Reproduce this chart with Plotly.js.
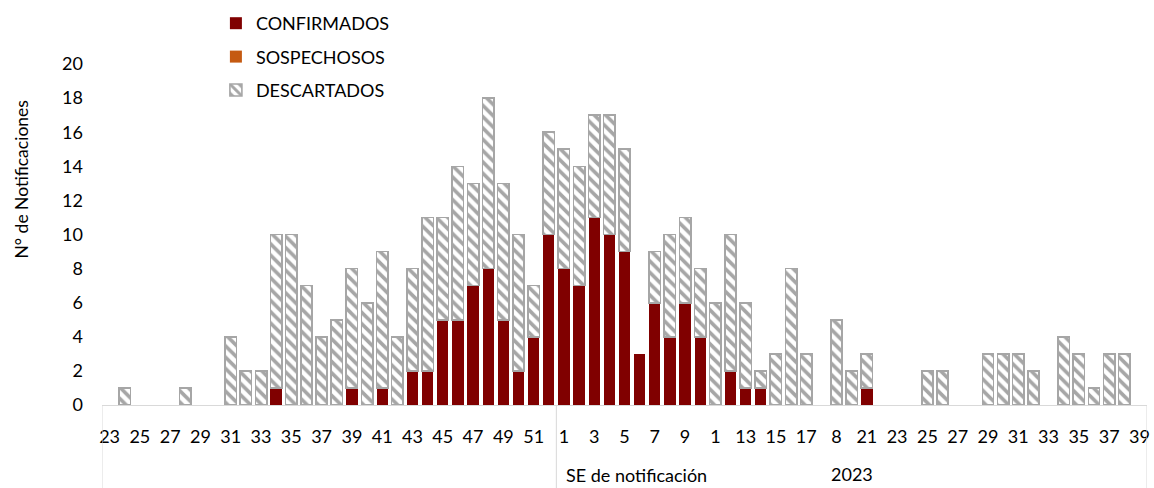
<!DOCTYPE html>
<html>
<head>
<meta charset="utf-8">
<script src="https://cdn.plot.ly/plotly-3.0.1.min.js"></script>
<style>
  html, body { margin: 0; padding: 0; background: #fff; }
  #chart { width: 1154px; height: 488px; }
</style>
</head>
<body>
<div id="chart"></div>
<script>
// Week labels as printed on the axis (69 epidemiological weeks)
const weekLabels = [
  "23","24","25","26","27","28","29","30","31","32","33","34","35","36","37","38","39","40",
  "41","42","43","44","45","46","47","48","49","50","51","52",
  "1","2","3","4","5","6","7","8","9","10","1","12","13","14","15","16","17","18","8","20",
  "21","22","23","24","25","26","27","28","29","30","31","32","33","34","35","36","37","38","39"
];
const groupLabel = "2023";
const xTitle = "SE de notificación";
const yTitle = "N° de Notificaciones";

const confirmados = [
  0,0,0,0,0,0,0,0,0,0,0,1,0,0,0,0,1,0,1,0,2,2,5,5,7,8,5,2,4,10,
  8,7,11,10,9,3,6,4,6,4,0,2,1,1,0,0,0,0,0,0,1,0,0,0,0,0,0,0,0,0,0,0,0,0,0,0,0,0,0
];
const sospechosos = [
  0,0,0,0,0,0,0,0,0,0,0,0,0,0,0,0,0,0,0,0,0,0,0,0,0,0,0,0,0,0,
  0,0,0,0,0,0,0,0,0,0,0,0,0,0,0,0,0,0,0,0,0,0,0,0,0,0,0,0,0,0,0,0,0,0,0,0,0,0,0
];
const descartados = [
  0,1,0,0,0,1,0,0,4,2,2,9,10,7,4,5,7,6,8,4,6,9,6,9,6,10,8,8,3,6,
  7,7,6,7,6,0,3,6,5,4,6,8,5,1,3,8,3,0,5,2,2,0,0,0,2,2,0,0,3,3,3,2,0,4,3,1,3,3,0
];

const idx = weekLabels.map((_, i) => i);
const tickIdx = idx.filter(i => i % 2 === 0);
const tickTxt = tickIdx.map(i => weekLabels[i]);
const nz = a => a.map(v => (v === 0 ? null : v));

const FONT = "Lato, 'Open Sans', sans-serif";
const GRAY = "#A6A6A6";
const LINE = "#D9D9D9";

const traces = [
  {
    type: "bar", name: "CONFIRMADOS", x: idx, y: nz(confirmados),
    marker: { color: "#800000", line: { width: 0 } },
    legendgroup: "a"
  },
  {
    type: "bar", name: "SOSPECHOSOS", x: idx, y: nz(sospechosos),
    marker: { color: "#C55A11", line: { width: 0 } },
    legendgroup: "b"
  },
  {
    type: "bar", name: "DESCARTADOS", x: idx, y: nz(descartados),
    marker: {
      color: "#ffffff",
      line: { color: GRAY, width: 1.6 },
      pattern: { shape: "\\", fgcolor: GRAY, bgcolor: "#ffffff", size: 8, solidity: 0.45 }
    },
    legendgroup: "c"
  }
];

const plotH = 341; // pixel height of plot area
const pBottom = 83;
const yPix = px => (405 - px) / plotH;   // convert a pixel row to paper y

const layout = {
  width: 1154, height: 488,
  margin: { l: 102, r: 7, t: 64, b: pBottom, autoexpand: false },
  paper_bgcolor: "#fff", plot_bgcolor: "#fff",
  barmode: "stack", bargap: 0.25,
  font: { family: FONT, size: 18, color: "#000" },
  showlegend: true,
  legend: {
    x: 0.109, y: yPix(5), xanchor: "left", yanchor: "top",
    font: { family: FONT, size: 18, color: "#000" },
    tracegroupgap: 7, bgcolor: "rgba(0,0,0,0)", traceorder: "grouped"
  },
  xaxis: {
    range: [-0.5, idx.length - 0.5],
    tickmode: "array", tickvals: tickIdx, ticktext: tickTxt,
    showgrid: false, zeroline: false,
    showline: true, linecolor: LINE, linewidth: 1,
    ticks: "", ticklabelstandoff: 15, tickangle: 0,
    tickfont: { family: FONT, size: 18, color: "#000" },
    fixedrange: true
  },
  yaxis: {
    range: [0, 20], dtick: 2, tick0: 0,
    showgrid: false, zeroline: false, showline: false,
    ticks: "", ticklabelstandoff: 18,
    tickfont: { family: FONT, size: 18, color: "#000" },
    fixedrange: true
  },
  shapes: [-0.5, 29.5, idx.length - 0.5].map(x => ({
    type: "line", xref: "x", yref: "paper",
    x0: x, x1: x, y0: 0, y1: -pBottom / plotH,
    line: { color: LINE, width: 1 }
  })),
  annotations: [
    {
      text: groupLabel, xref: "x", yref: "paper",
      x: (29.5 + idx.length - 0.5) / 2, y: yPix(474),
      xanchor: "center", yanchor: "middle", showarrow: false,
      font: { family: FONT, size: 18, color: "#000" }
    },
    {
      text: xTitle, xref: "paper", yref: "paper",
      x: (564 - 102) / 1045, y: yPix(475),
      xanchor: "left", yanchor: "middle", showarrow: false,
      font: { family: FONT, size: 18, color: "#000" }
    },
    {
      text: yTitle, xref: "paper", yref: "paper",
      x: (20.5 - 102) / 1045, y: yPix(180),
      xanchor: "center", yanchor: "middle", textangle: -90, showarrow: false,
      font: { family: FONT, size: 17.5, color: "#000" }
    }
  ]
};

Plotly.newPlot("chart", traces, layout, { displayModeBar: false, staticPlot: true });
</script>
</body>
</html>
